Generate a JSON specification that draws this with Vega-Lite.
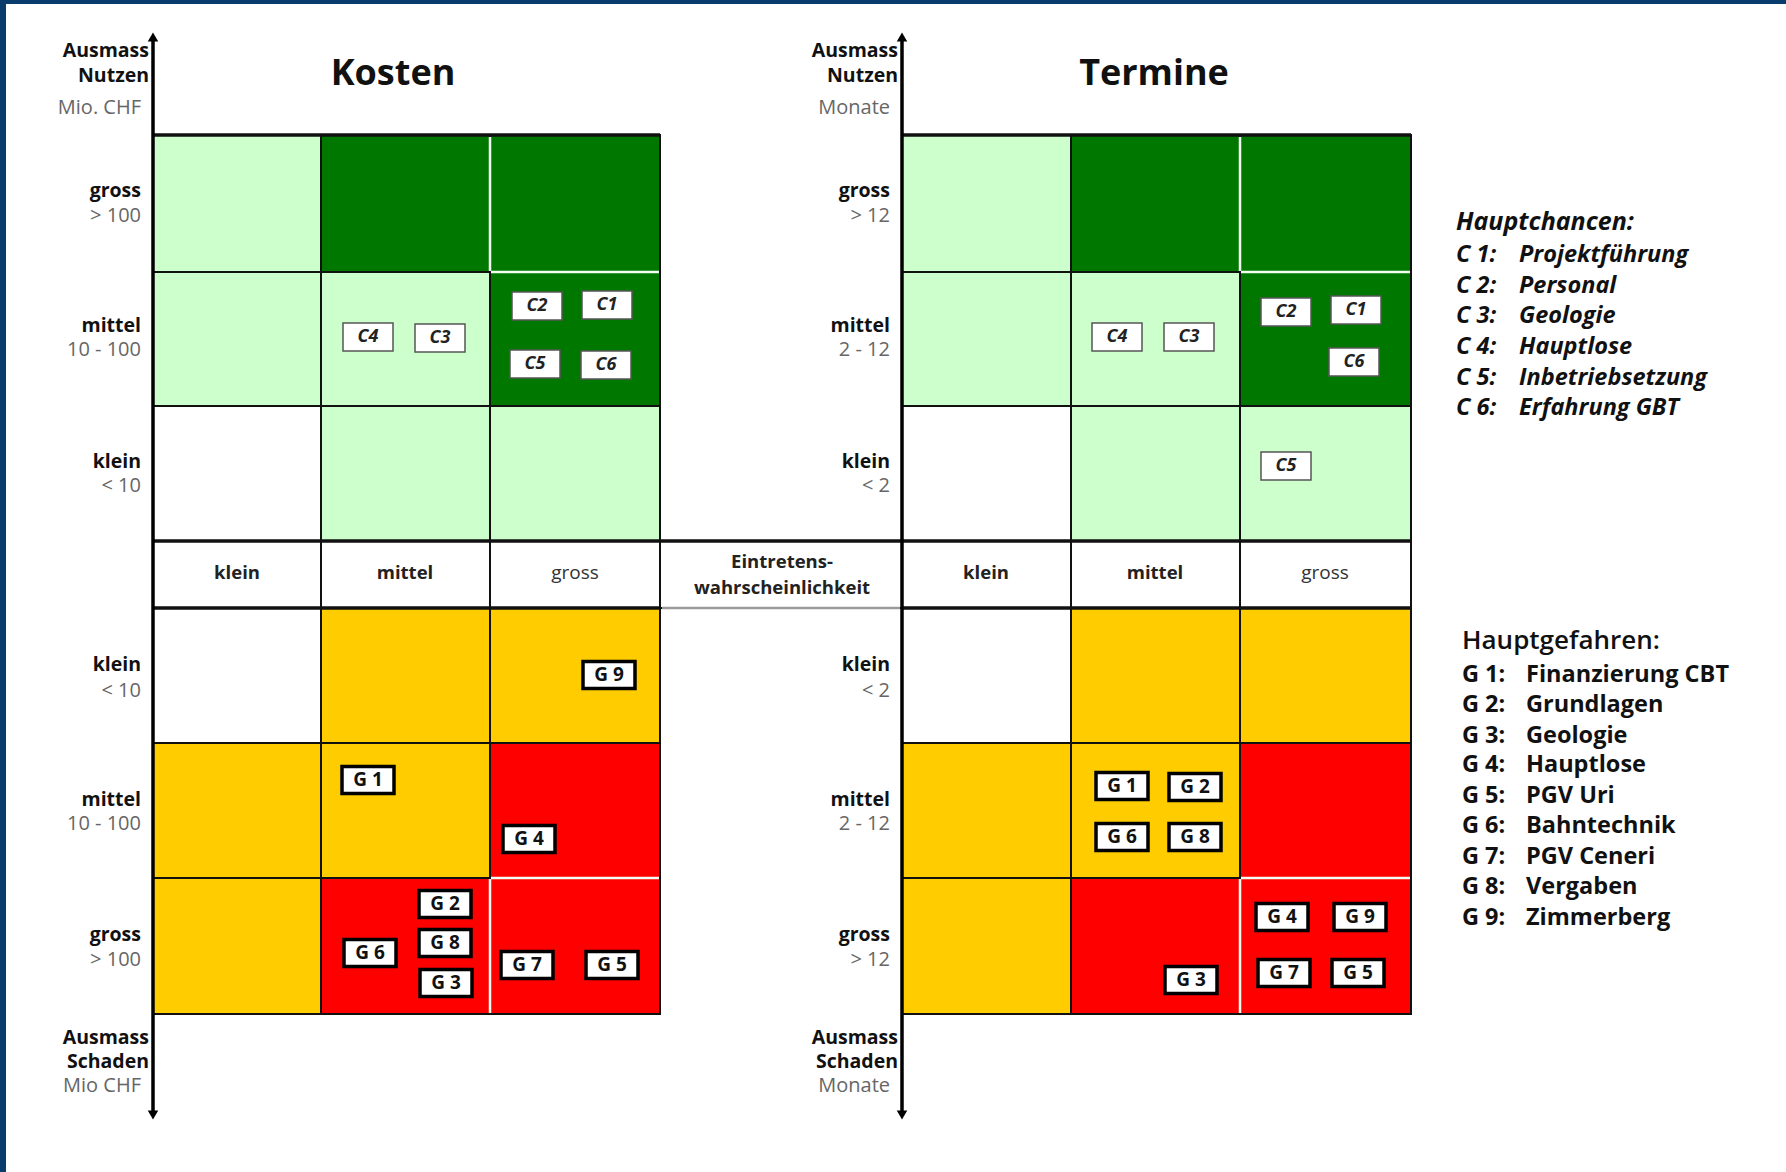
{
  "$schema": "https://vega.github.io/schema/vega-lite/v6.json",
  "width": 1786,
  "height": 1172,
  "autosize": {"type": "none"},
  "padding": 0,
  "background": "#0a3b6d",
  "config": {"view": {"stroke": null}, "font": "Open Sans", "text": {"font": "Open Sans"}},
  "datasets": {
    "panel": [{"x0": 6, "x1": 1786, "y0": 4, "y1": 1172}],
    "cells": [
      {"p": "Kosten", "w": "klein", "a": "Nutzen gross", "z": "hellgruen", "x0": 153, "x1": 321, "y0": 135, "y1": 272},
      {"p": "Kosten", "w": "mittel", "a": "Nutzen gross", "z": "dunkelgruen", "x0": 321, "x1": 490, "y0": 135, "y1": 272},
      {"p": "Kosten", "w": "gross", "a": "Nutzen gross", "z": "dunkelgruen", "x0": 490, "x1": 660, "y0": 135, "y1": 272},
      {"p": "Kosten", "w": "klein", "a": "Nutzen mittel", "z": "hellgruen", "x0": 153, "x1": 321, "y0": 272, "y1": 406},
      {"p": "Kosten", "w": "mittel", "a": "Nutzen mittel", "z": "hellgruen", "x0": 321, "x1": 490, "y0": 272, "y1": 406},
      {"p": "Kosten", "w": "gross", "a": "Nutzen mittel", "z": "dunkelgruen", "x0": 490, "x1": 660, "y0": 272, "y1": 406},
      {"p": "Kosten", "w": "klein", "a": "Nutzen klein", "z": "weiss", "x0": 153, "x1": 321, "y0": 406, "y1": 541},
      {"p": "Kosten", "w": "mittel", "a": "Nutzen klein", "z": "hellgruen", "x0": 321, "x1": 490, "y0": 406, "y1": 541},
      {"p": "Kosten", "w": "gross", "a": "Nutzen klein", "z": "hellgruen", "x0": 490, "x1": 660, "y0": 406, "y1": 541},
      {"p": "Kosten", "w": "klein", "a": "Kopf", "z": "weiss", "x0": 153, "x1": 321, "y0": 541, "y1": 608},
      {"p": "Kosten", "w": "mittel", "a": "Kopf", "z": "weiss", "x0": 321, "x1": 490, "y0": 541, "y1": 608},
      {"p": "Kosten", "w": "gross", "a": "Kopf", "z": "weiss", "x0": 490, "x1": 660, "y0": 541, "y1": 608},
      {"p": "Mitte", "w": "", "a": "Kopf", "z": "weiss", "x0": 660, "x1": 902, "y0": 541, "y1": 608},
      {"p": "Kosten", "w": "klein", "a": "Schaden klein", "z": "weiss", "x0": 153, "x1": 321, "y0": 608, "y1": 743},
      {"p": "Kosten", "w": "mittel", "a": "Schaden klein", "z": "gelb", "x0": 321, "x1": 490, "y0": 608, "y1": 743},
      {"p": "Kosten", "w": "gross", "a": "Schaden klein", "z": "gelb", "x0": 490, "x1": 660, "y0": 608, "y1": 743},
      {"p": "Kosten", "w": "klein", "a": "Schaden mittel", "z": "gelb", "x0": 153, "x1": 321, "y0": 743, "y1": 878},
      {"p": "Kosten", "w": "mittel", "a": "Schaden mittel", "z": "gelb", "x0": 321, "x1": 490, "y0": 743, "y1": 878},
      {"p": "Kosten", "w": "gross", "a": "Schaden mittel", "z": "rot", "x0": 490, "x1": 660, "y0": 743, "y1": 878},
      {"p": "Kosten", "w": "klein", "a": "Schaden gross", "z": "gelb", "x0": 153, "x1": 321, "y0": 878, "y1": 1014},
      {"p": "Kosten", "w": "mittel", "a": "Schaden gross", "z": "rot", "x0": 321, "x1": 490, "y0": 878, "y1": 1014},
      {"p": "Kosten", "w": "gross", "a": "Schaden gross", "z": "rot", "x0": 490, "x1": 660, "y0": 878, "y1": 1014},
      {"p": "Termine", "w": "klein", "a": "Nutzen gross", "z": "hellgruen", "x0": 902, "x1": 1071, "y0": 135, "y1": 272},
      {"p": "Termine", "w": "mittel", "a": "Nutzen gross", "z": "dunkelgruen", "x0": 1071, "x1": 1240, "y0": 135, "y1": 272},
      {"p": "Termine", "w": "gross", "a": "Nutzen gross", "z": "dunkelgruen", "x0": 1240, "x1": 1411, "y0": 135, "y1": 272},
      {"p": "Termine", "w": "klein", "a": "Nutzen mittel", "z": "hellgruen", "x0": 902, "x1": 1071, "y0": 272, "y1": 406},
      {"p": "Termine", "w": "mittel", "a": "Nutzen mittel", "z": "hellgruen", "x0": 1071, "x1": 1240, "y0": 272, "y1": 406},
      {"p": "Termine", "w": "gross", "a": "Nutzen mittel", "z": "dunkelgruen", "x0": 1240, "x1": 1411, "y0": 272, "y1": 406},
      {"p": "Termine", "w": "klein", "a": "Nutzen klein", "z": "weiss", "x0": 902, "x1": 1071, "y0": 406, "y1": 541},
      {"p": "Termine", "w": "mittel", "a": "Nutzen klein", "z": "hellgruen", "x0": 1071, "x1": 1240, "y0": 406, "y1": 541},
      {"p": "Termine", "w": "gross", "a": "Nutzen klein", "z": "hellgruen", "x0": 1240, "x1": 1411, "y0": 406, "y1": 541},
      {"p": "Termine", "w": "klein", "a": "Kopf", "z": "weiss", "x0": 902, "x1": 1071, "y0": 541, "y1": 608},
      {"p": "Termine", "w": "mittel", "a": "Kopf", "z": "weiss", "x0": 1071, "x1": 1240, "y0": 541, "y1": 608},
      {"p": "Termine", "w": "gross", "a": "Kopf", "z": "weiss", "x0": 1240, "x1": 1411, "y0": 541, "y1": 608},
      {"p": "Termine", "w": "klein", "a": "Schaden klein", "z": "weiss", "x0": 902, "x1": 1071, "y0": 608, "y1": 743},
      {"p": "Termine", "w": "mittel", "a": "Schaden klein", "z": "gelb", "x0": 1071, "x1": 1240, "y0": 608, "y1": 743},
      {"p": "Termine", "w": "gross", "a": "Schaden klein", "z": "gelb", "x0": 1240, "x1": 1411, "y0": 608, "y1": 743},
      {"p": "Termine", "w": "klein", "a": "Schaden mittel", "z": "gelb", "x0": 902, "x1": 1071, "y0": 743, "y1": 878},
      {"p": "Termine", "w": "mittel", "a": "Schaden mittel", "z": "gelb", "x0": 1071, "x1": 1240, "y0": 743, "y1": 878},
      {"p": "Termine", "w": "gross", "a": "Schaden mittel", "z": "rot", "x0": 1240, "x1": 1411, "y0": 743, "y1": 878},
      {"p": "Termine", "w": "klein", "a": "Schaden gross", "z": "gelb", "x0": 902, "x1": 1071, "y0": 878, "y1": 1014},
      {"p": "Termine", "w": "mittel", "a": "Schaden gross", "z": "rot", "x0": 1071, "x1": 1240, "y0": 878, "y1": 1014},
      {"p": "Termine", "w": "gross", "a": "Schaden gross", "z": "rot", "x0": 1240, "x1": 1411, "y0": 878, "y1": 1014}
    ],
    "blackLines": [
      {"x0": 153, "x1": 1411, "y0": 541, "y1": 541},
      {"x0": 153, "x1": 660, "y0": 608, "y1": 608},
      {"x0": 902, "x1": 1411, "y0": 608, "y1": 608},
      {"x0": 153, "x1": 660, "y0": 135, "y1": 135},
      {"x0": 902, "x1": 1411, "y0": 135, "y1": 135}
    ],
    "grayLines": [
      {"x0": 662, "x1": 900, "y0": 608, "y1": 608}
    ],
    "whiteLines": [
      {"x0": 490, "x1": 490, "y0": 137, "y1": 271},
      {"x0": 491, "x1": 659, "y0": 272, "y1": 272},
      {"x0": 1240, "x1": 1240, "y0": 137, "y1": 271},
      {"x0": 1241, "x1": 1410, "y0": 272, "y1": 272},
      {"x0": 491, "x1": 659, "y0": 878, "y1": 878},
      {"x0": 490, "x1": 490, "y0": 879, "y1": 1013},
      {"x0": 1241, "x1": 1410, "y0": 878, "y1": 878},
      {"x0": 1240, "x1": 1240, "y0": 879, "y1": 1013}
    ],
    "axes": [
      {"x": 153, "y0": 38, "y1": 1114},
      {"x": 902, "y0": 38, "y1": 1114}
    ],
    "arrows": [
      {"x": 153, "y": 37, "d": "oben"},
      {"x": 153, "y": 1115, "d": "unten"},
      {"x": 902, "y": 37, "d": "oben"},
      {"x": 902, "y": 1115, "d": "unten"}
    ],
    "titles": [
      {"t": "Kosten", "x": 393, "y": 74},
      {"t": "Termine", "x": 1154, "y": 74}
    ],
    "axisBold": [
      {"t": "Ausmass", "x": 149, "y": 51},
      {"t": "Nutzen", "x": 149, "y": 76},
      {"t": "gross", "x": 141, "y": 191},
      {"t": "mittel", "x": 141, "y": 326},
      {"t": "klein", "x": 141, "y": 462},
      {"t": "klein", "x": 141, "y": 665},
      {"t": "mittel", "x": 141, "y": 800},
      {"t": "gross", "x": 141, "y": 935},
      {"t": "Ausmass", "x": 149, "y": 1038},
      {"t": "Schaden", "x": 149, "y": 1062},
      {"t": "Ausmass", "x": 898, "y": 51},
      {"t": "Nutzen", "x": 898, "y": 76},
      {"t": "gross", "x": 890, "y": 191},
      {"t": "mittel", "x": 890, "y": 326},
      {"t": "klein", "x": 890, "y": 462},
      {"t": "klein", "x": 890, "y": 665},
      {"t": "mittel", "x": 890, "y": 800},
      {"t": "gross", "x": 890, "y": 935},
      {"t": "Ausmass", "x": 898, "y": 1038},
      {"t": "Schaden", "x": 898, "y": 1062}
    ],
    "axisGray": [
      {"t": "Mio. CHF", "x": 141, "y": 108},
      {"t": "> 100", "x": 141, "y": 216},
      {"t": "10 - 100", "x": 141, "y": 350},
      {"t": "< 10", "x": 141, "y": 486},
      {"t": "< 10", "x": 141, "y": 691},
      {"t": "10 - 100", "x": 141, "y": 824},
      {"t": "> 100", "x": 141, "y": 960},
      {"t": "Mio CHF", "x": 141, "y": 1086},
      {"t": "Monate", "x": 890, "y": 108},
      {"t": "> 12", "x": 890, "y": 216},
      {"t": "2 - 12", "x": 890, "y": 350},
      {"t": "< 2", "x": 890, "y": 486},
      {"t": "< 2", "x": 890, "y": 691},
      {"t": "2 - 12", "x": 890, "y": 824},
      {"t": "> 12", "x": 890, "y": 960},
      {"t": "Monate", "x": 890, "y": 1086}
    ],
    "headBold": [
      {"t": "klein", "x": 237, "y": 573},
      {"t": "mittel", "x": 405, "y": 573},
      {"t": "klein", "x": 986, "y": 573},
      {"t": "mittel", "x": 1155, "y": 573},
      {"t": "Eintretens-", "x": 782, "y": 562},
      {"t": "wahrscheinlichkeit", "x": 782, "y": 588}
    ],
    "headNormal": [
      {"t": "gross", "x": 575, "y": 573},
      {"t": "gross", "x": 1325, "y": 573}
    ],
    "chancen": [
      {"id": "C4", "p": "Kosten", "x": 368, "y": 337},
      {"id": "C3", "p": "Kosten", "x": 440, "y": 338},
      {"id": "C2", "p": "Kosten", "x": 537, "y": 306},
      {"id": "C1", "p": "Kosten", "x": 607, "y": 305},
      {"id": "C5", "p": "Kosten", "x": 535, "y": 364},
      {"id": "C6", "p": "Kosten", "x": 606, "y": 365},
      {"id": "C2", "p": "Termine", "x": 1286, "y": 312},
      {"id": "C1", "p": "Termine", "x": 1356, "y": 310},
      {"id": "C4", "p": "Termine", "x": 1117, "y": 337},
      {"id": "C3", "p": "Termine", "x": 1189, "y": 337},
      {"id": "C6", "p": "Termine", "x": 1354, "y": 362},
      {"id": "C5", "p": "Termine", "x": 1286, "y": 466}
    ],
    "gefahren": [
      {"id": "G 9", "p": "Kosten", "x": 609, "y": 675},
      {"id": "G 1", "p": "Kosten", "x": 368, "y": 780},
      {"id": "G 4", "p": "Kosten", "x": 529, "y": 839},
      {"id": "G 2", "p": "Kosten", "x": 445, "y": 904},
      {"id": "G 8", "p": "Kosten", "x": 445, "y": 943},
      {"id": "G 3", "p": "Kosten", "x": 446, "y": 983},
      {"id": "G 6", "p": "Kosten", "x": 370, "y": 953},
      {"id": "G 7", "p": "Kosten", "x": 527, "y": 965},
      {"id": "G 5", "p": "Kosten", "x": 612, "y": 965},
      {"id": "G 1", "p": "Termine", "x": 1122, "y": 786},
      {"id": "G 2", "p": "Termine", "x": 1195, "y": 787},
      {"id": "G 6", "p": "Termine", "x": 1122, "y": 837},
      {"id": "G 8", "p": "Termine", "x": 1195, "y": 837},
      {"id": "G 4", "p": "Termine", "x": 1282, "y": 917},
      {"id": "G 9", "p": "Termine", "x": 1360, "y": 917},
      {"id": "G 7", "p": "Termine", "x": 1284, "y": 973},
      {"id": "G 5", "p": "Termine", "x": 1358, "y": 973},
      {"id": "G 3", "p": "Termine", "x": 1191, "y": 980}
    ],
    "legChancen": [
      {"code": "C 1:", "name": "Projektführung", "xc": 1456, "xn": 1519, "y": 255},
      {"code": "C 2:", "name": "Personal", "xc": 1456, "xn": 1519, "y": 286},
      {"code": "C 3:", "name": "Geologie", "xc": 1456, "xn": 1519, "y": 316},
      {"code": "C 4:", "name": "Hauptlose", "xc": 1456, "xn": 1519, "y": 347},
      {"code": "C 5:", "name": "Inbetriebsetzung", "xc": 1456, "xn": 1519, "y": 378},
      {"code": "C 6:", "name": "Erfahrung GBT", "xc": 1456, "xn": 1519, "y": 408}
    ],
    "legGefahren": [
      {"code": "G 1:", "name": "Finanzierung CBT", "xc": 1462, "xn": 1526, "y": 675},
      {"code": "G 2:", "name": "Grundlagen", "xc": 1462, "xn": 1526, "y": 705},
      {"code": "G 3:", "name": "Geologie", "xc": 1462, "xn": 1526, "y": 736},
      {"code": "G 4:", "name": "Hauptlose", "xc": 1462, "xn": 1526, "y": 765},
      {"code": "G 5:", "name": "PGV Uri", "xc": 1462, "xn": 1526, "y": 796},
      {"code": "G 6:", "name": "Bahntechnik", "xc": 1462, "xn": 1526, "y": 826},
      {"code": "G 7:", "name": "PGV Ceneri", "xc": 1462, "xn": 1526, "y": 857},
      {"code": "G 8:", "name": "Vergaben", "xc": 1462, "xn": 1526, "y": 887},
      {"code": "G 9:", "name": "Zimmerberg", "xc": 1462, "xn": 1526, "y": 918}
    ],
    "legHead": [
      {"t": "Hauptchancen:", "x": 1456, "y": 222, "k": "c"},
      {"t": "Hauptgefahren:", "x": 1462, "y": 641, "k": "g"}
    ]
  },
  "layer": [
    {
      "data": {"name": "panel"},
      "mark": {"type": "rect", "fill": "#ffffff"},
      "encoding": {
        "x": {"field": "x0", "type": "quantitative", "scale": {"domain": [0, 1786], "nice": false, "zero": false}, "axis": null},
        "x2": {"field": "x1"},
        "y": {"field": "y0", "type": "quantitative", "scale": {"domain": [0, 1172], "reverse": true, "nice": false, "zero": false}, "axis": null},
        "y2": {"field": "y1"}
      }
    },
    {
      "data": {"name": "cells"},
      "mark": {"type": "rect", "stroke": "#111111", "strokeWidth": 2},
      "encoding": {
        "x": {"field": "x0", "type": "quantitative", "axis": null},
        "x2": {"field": "x1"},
        "y": {"field": "y0", "type": "quantitative", "axis": null},
        "y2": {"field": "y1"},
        "fill": {"field": "z", "type": "nominal", "legend": null,
          "scale": {"domain": ["weiss", "hellgruen", "dunkelgruen", "gelb", "rot"], "range": ["#ffffff", "#ccffcc", "#007800", "#ffcc00", "#ff0000"]}}
      }
    },
    {
      "data": {"name": "blackLines"},
      "mark": {"type": "rule", "color": "#111111", "strokeWidth": 3.5},
      "encoding": {
        "x": {"field": "x0", "type": "quantitative", "axis": null},
        "x2": {"field": "x1"},
        "y": {"field": "y0", "type": "quantitative", "axis": null},
        "y2": {"field": "y1"}
      }
    },
    {
      "data": {"name": "grayLines"},
      "mark": {"type": "rule", "color": "#9a9a9a", "strokeWidth": 2.5},
      "encoding": {
        "x": {"field": "x0", "type": "quantitative", "axis": null},
        "x2": {"field": "x1"},
        "y": {"field": "y0", "type": "quantitative", "axis": null},
        "y2": {"field": "y1"}
      }
    },
    {
      "data": {"name": "whiteLines"},
      "mark": {"type": "rule", "color": "#f4fff4", "strokeWidth": 2.5},
      "encoding": {
        "x": {"field": "x0", "type": "quantitative", "axis": null},
        "x2": {"field": "x1"},
        "y": {"field": "y0", "type": "quantitative", "axis": null},
        "y2": {"field": "y1"}
      }
    },
    {
      "data": {"name": "axes"},
      "mark": {"type": "rule", "color": "#000000", "strokeWidth": 3.5},
      "encoding": {
        "x": {"field": "x", "type": "quantitative", "axis": null},
        "y": {"field": "y0", "type": "quantitative", "axis": null},
        "y2": {"field": "y1"}
      }
    },
    {
      "data": {"name": "arrows"},
      "mark": {"type": "point", "filled": true, "color": "#000000", "opacity": 1, "size": 110},
      "encoding": {
        "x": {"field": "x", "type": "quantitative", "axis": null},
        "y": {"field": "y", "type": "quantitative", "axis": null},
        "shape": {"field": "d", "type": "nominal", "legend": null, "scale": {"domain": ["oben", "unten"], "range": ["triangle-up", "triangle-down"]}}
      }
    },
    {
      "data": {"name": "titles"},
      "mark": {"type": "text", "font": "Open Sans", "fontSize": 36, "fontWeight": "bold", "align": "center", "baseline": "middle", "color": "#111111"},
      "encoding": {
        "x": {"field": "x", "type": "quantitative", "axis": null},
        "y": {"field": "y", "type": "quantitative", "axis": null},
        "text": {"field": "t"}
      }
    },
    {
      "data": {"name": "axisBold"},
      "mark": {"type": "text", "font": "Open Sans", "fontSize": 19.5, "fontWeight": "bold", "align": "right", "baseline": "middle", "color": "#111111"},
      "encoding": {
        "x": {"field": "x", "type": "quantitative", "axis": null},
        "y": {"field": "y", "type": "quantitative", "axis": null},
        "text": {"field": "t"}
      }
    },
    {
      "data": {"name": "axisGray"},
      "mark": {"type": "text", "font": "Open Sans", "fontSize": 20, "fontWeight": "normal", "align": "right", "baseline": "middle", "color": "#666666"},
      "encoding": {
        "x": {"field": "x", "type": "quantitative", "axis": null},
        "y": {"field": "y", "type": "quantitative", "axis": null},
        "text": {"field": "t"}
      }
    },
    {
      "data": {"name": "headBold"},
      "mark": {"type": "text", "font": "Open Sans", "fontSize": 18.5, "fontWeight": "bold", "align": "center", "baseline": "middle", "color": "#222222"},
      "encoding": {
        "x": {"field": "x", "type": "quantitative", "axis": null},
        "y": {"field": "y", "type": "quantitative", "axis": null},
        "text": {"field": "t"}
      }
    },
    {
      "data": {"name": "headNormal"},
      "mark": {"type": "text", "font": "Open Sans", "fontSize": 19, "fontWeight": "normal", "align": "center", "baseline": "middle", "color": "#333333"},
      "encoding": {
        "x": {"field": "x", "type": "quantitative", "axis": null},
        "y": {"field": "y", "type": "quantitative", "axis": null},
        "text": {"field": "t"}
      }
    },
    {
      "data": {"name": "chancen"},
      "mark": {"type": "point", "shape": "M-1,-0.56L1,-0.56L1,0.56L-1,0.56Z", "size": 2500, "filled": true, "fill": "#ffffff", "stroke": "#555555", "strokeWidth": 1.5, "opacity": 1},
      "encoding": {
        "x": {"field": "x", "type": "quantitative", "axis": null},
        "y": {"field": "y", "type": "quantitative", "axis": null}
      }
    },
    {
      "data": {"name": "chancen"},
      "mark": {"type": "text", "font": "Open Sans", "fontSize": 18, "fontWeight": "bold", "fontStyle": "italic", "align": "center", "baseline": "middle", "color": "#222222"},
      "encoding": {
        "x": {"field": "x", "type": "quantitative", "axis": null},
        "y": {"field": "y", "type": "quantitative", "axis": null},
        "text": {"field": "id"}
      }
    },
    {
      "data": {"name": "gefahren"},
      "mark": {"type": "point", "shape": "M-1,-0.52L1,-0.52L1,0.52L-1,0.52Z", "size": 2704, "filled": true, "fill": "#ffffff", "stroke": "#000000", "strokeWidth": 3.5, "opacity": 1},
      "encoding": {
        "x": {"field": "x", "type": "quantitative", "axis": null},
        "y": {"field": "y", "type": "quantitative", "axis": null}
      }
    },
    {
      "data": {"name": "gefahren"},
      "mark": {"type": "text", "font": "Open Sans", "fontSize": 19, "fontWeight": "bold", "align": "center", "baseline": "middle", "color": "#111111"},
      "encoding": {
        "x": {"field": "x", "type": "quantitative", "axis": null},
        "y": {"field": "y", "type": "quantitative", "axis": null},
        "text": {"field": "id"}
      }
    },
    {
      "data": {"name": "legHead"},
      "transform": [{"filter": "datum.k == 'c'"}],
      "mark": {"type": "text", "font": "Open Sans", "fontSize": 25, "fontWeight": "bold", "fontStyle": "italic", "align": "left", "baseline": "middle", "color": "#111111"},
      "encoding": {
        "x": {"field": "x", "type": "quantitative", "axis": null},
        "y": {"field": "y", "type": "quantitative", "axis": null},
        "text": {"field": "t"}
      }
    },
    {
      "data": {"name": "legHead"},
      "transform": [{"filter": "datum.k == 'g'"}],
      "mark": {"type": "text", "font": "Open Sans", "fontSize": 26, "fontWeight": 600, "align": "left", "baseline": "middle", "color": "#111111"},
      "encoding": {
        "x": {"field": "x", "type": "quantitative", "axis": null},
        "y": {"field": "y", "type": "quantitative", "axis": null},
        "text": {"field": "t"}
      }
    },
    {
      "data": {"name": "legChancen"},
      "mark": {"type": "text", "font": "Open Sans", "fontSize": 23.5, "fontWeight": "bold", "fontStyle": "italic", "align": "left", "baseline": "middle", "color": "#111111"},
      "encoding": {
        "x": {"field": "xc", "type": "quantitative", "axis": null},
        "y": {"field": "y", "type": "quantitative", "axis": null},
        "text": {"field": "code"}
      }
    },
    {
      "data": {"name": "legChancen"},
      "mark": {"type": "text", "font": "Open Sans", "fontSize": 23.5, "fontWeight": "bold", "fontStyle": "italic", "align": "left", "baseline": "middle", "color": "#111111"},
      "encoding": {
        "x": {"field": "xn", "type": "quantitative", "axis": null},
        "y": {"field": "y", "type": "quantitative", "axis": null},
        "text": {"field": "name"}
      }
    },
    {
      "data": {"name": "legGefahren"},
      "mark": {"type": "text", "font": "Open Sans", "fontSize": 23.5, "fontWeight": "bold", "align": "left", "baseline": "middle", "color": "#111111"},
      "encoding": {
        "x": {"field": "xc", "type": "quantitative", "axis": null},
        "y": {"field": "y", "type": "quantitative", "axis": null},
        "text": {"field": "code"}
      }
    },
    {
      "data": {"name": "legGefahren"},
      "mark": {"type": "text", "font": "Open Sans", "fontSize": 23.5, "fontWeight": "bold", "align": "left", "baseline": "middle", "color": "#111111"},
      "encoding": {
        "x": {"field": "xn", "type": "quantitative", "axis": null},
        "y": {"field": "y", "type": "quantitative", "axis": null},
        "text": {"field": "name"}
      }
    }
  ]
}
